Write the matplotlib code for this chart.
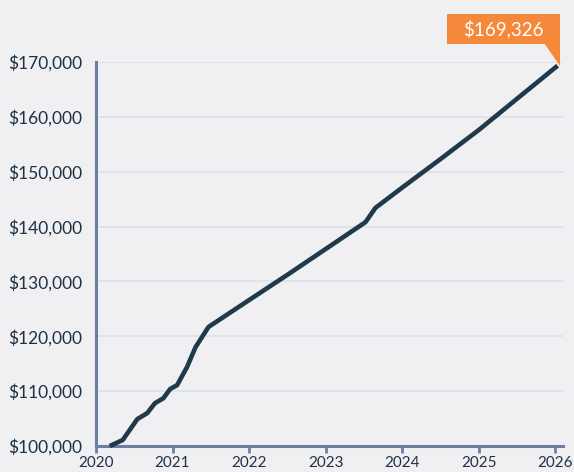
import matplotlib
matplotlib.use("Agg")
import matplotlib.pyplot as plt
import matplotlib.transforms as mtransforms
from matplotlib.patches import Polygon

# data (fractional years, account value)
years = [2020.18, 2020.35, 2020.54, 2020.67, 2020.77, 2020.88, 2020.97, 2021.06,
         2021.19, 2021.30, 2021.47, 2022.0, 2022.5, 2023.0, 2023.52, 2023.65,
         2024.0, 2024.5, 2025.0, 2025.5, 2026.03]
values = [100000, 101100, 104900, 106000, 107800, 108700, 110400, 111100,
          114400, 118000, 121700, 126600, 131200, 135900, 140800, 143400,
          147100, 152300, 157600, 163300, 169326]
year_ticks = [2020, 2021, 2022, 2023, 2024, 2025, 2026]
value_ticks = [100000, 110000, 120000, 130000, 140000, 150000, 160000, 170000]
end_label = "$169,326"

bg = "#f0f0f3"
text_col = "#1e3245"
axis_col = "#6b7fa3"
grid_col = "#d9e0ee"
line_col = "#1f3a4b"
orange = "#f5883a"

plt.rcParams['font.family'] = ['Lato', 'DejaVu Sans']

fig = plt.figure(figsize=(5.74, 4.72), dpi=100, facecolor=bg)
ax = fig.add_axes([0.1672, 0.0551, 0.8136, 0.8136], facecolor=bg)

ax.plot(years, values, color=line_col, lw=3.3, solid_capstyle='butt',
        solid_joinstyle='round', clip_on=False, zorder=3)

ax.set_xlim(2020, 2026.1)
ax.set_ylim(100000, 170000)
ax.set_xticks(year_ticks)
ax.set_xticklabels([str(y) for y in year_ticks])
ax.set_yticks(value_ticks)
ax.set_yticklabels([f"${v:,}" for v in value_ticks])

for s in ['top', 'right']:
    ax.spines[s].set_visible(False)
for s in ['left', 'bottom']:
    ax.spines[s].set_color(axis_col)
    ax.spines[s].set_linewidth(2.2)

ax.grid(axis='y', color=grid_col, lw=1.2)
ax.set_axisbelow(True)
ax.tick_params(axis='x', colors=axis_col, length=5, width=2, labelcolor=text_col,
               labelsize=11, pad=2)
ax.tick_params(axis='y', length=0, labelcolor=text_col, labelsize=12.5, pad=10)

# orange callout at the last point
xe, ye = years[-1], values[-1]
tr = mtransforms.Affine2D() + mtransforms.ScaledTranslation(xe, ye, ax.transData)
box = Polygon([(-111, 22), (2, 22), (2, 52), (-111, 52)], closed=True,
              facecolor=orange, edgecolor='none', transform=tr, clip_on=False, zorder=5)
tail = Polygon([(-14, 22.5), (2, 22.5), (2, 0)], closed=True,
               facecolor=orange, edgecolor='none', transform=tr, clip_on=False, zorder=5)
ax.add_patch(box)
ax.add_patch(tail)
ax.text(-54.5, 37, end_label, transform=tr, color='white', fontsize=13.5,
        ha='center', va='center', zorder=6, clip_on=False)

fig.savefig("out.png", dpi=100, facecolor=bg)
